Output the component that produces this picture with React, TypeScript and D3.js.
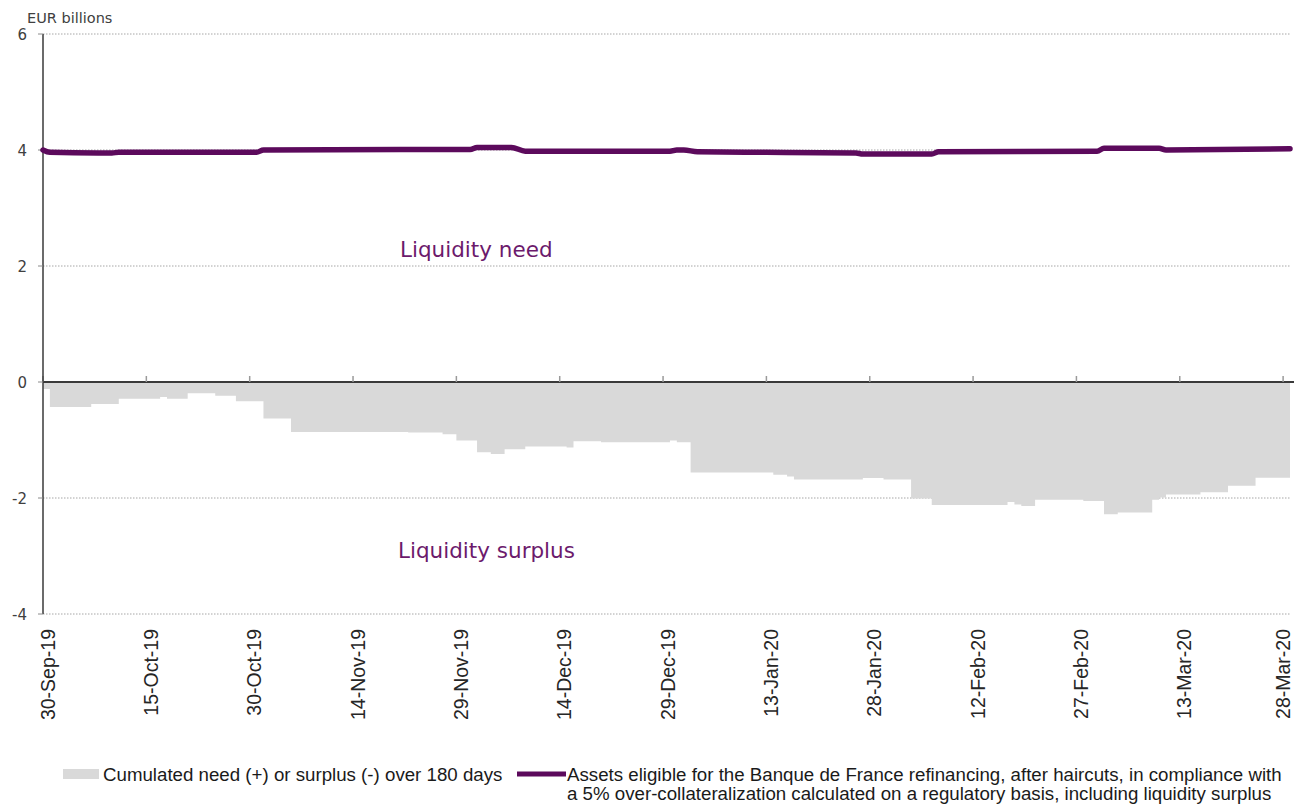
import { useMemo } from "react";
import * as d3 from "d3";

const WIDTH = 1294;
const HEIGHT = 805;
const PLOT = { left: 43, right: 1290, top: 34, bottom: 614 };

// cumulated need (+) / surplus (-), step changes
const surplusDates = [
  "2019-09-30", "2019-10-01", "2019-10-07", "2019-10-11", "2019-10-17", "2019-10-18",
  "2019-10-21", "2019-10-25", "2019-10-28", "2019-11-01", "2019-11-05", "2019-11-22",
  "2019-11-27", "2019-11-29", "2019-12-02", "2019-12-04", "2019-12-06", "2019-12-09",
  "2019-12-15", "2019-12-16", "2019-12-20", "2019-12-30", "2019-12-31", "2020-01-02",
  "2020-01-14", "2020-01-16", "2020-01-17", "2020-01-27", "2020-01-30", "2020-02-03",
  "2020-02-06", "2020-02-17", "2020-02-18", "2020-02-19", "2020-02-21", "2020-02-28",
  "2020-03-02", "2020-03-04", "2020-03-09", "2020-03-10", "2020-03-11", "2020-03-16",
  "2020-03-20", "2020-03-24", "2020-03-29",
];
const surplusValues = [
  -0.12, -0.43, -0.38, -0.29, -0.26, -0.29,
  -0.195, -0.235, -0.33, -0.63, -0.86, -0.87,
  -0.9, -1.01, -1.21, -1.24, -1.16, -1.11,
  -1.13, -1.02, -1.04, -1.01, -1.04, -1.56,
  -1.6, -1.63, -1.68, -1.655, -1.68, -2.01,
  -2.12, -2.07, -2.11, -2.14, -2.03, -2.05,
  -2.28, -2.25, -2.03, -1.99, -1.94, -1.9,
  -1.79, -1.65, -1.65,
];

// eligible assets after haircuts
const assetDates = [
  "2019-09-30", "2019-10-01", "2019-10-08", "2019-10-10", "2019-10-11", "2019-10-31",
  "2019-11-01", "2019-11-30", "2019-12-01", "2019-12-02", "2019-12-07", "2019-12-09",
  "2019-12-30", "2019-12-31", "2020-01-01", "2020-01-03", "2020-01-13", "2020-01-26",
  "2020-01-27", "2020-02-06", "2020-02-07", "2020-03-01", "2020-03-02", "2020-03-10",
  "2020-03-11", "2020-03-29",
];
const assetValues = [
  4.0, 3.96, 3.95, 3.95, 3.96, 3.96,
  4.0, 4.01, 4.01, 4.045, 4.045, 3.98,
  3.98, 4.0, 4.0, 3.97, 3.96, 3.95,
  3.93, 3.93, 3.97, 3.98, 4.03, 4.03,
  4.0, 4.02,
];

const yTicks = [-4, -2, 0, 2, 4, 6];
const xTickDates = [
  "2019-09-30", "2019-10-15", "2019-10-30", "2019-11-14", "2019-11-29", "2019-12-14",
  "2019-12-29", "2020-01-13", "2020-01-28", "2020-02-12", "2020-02-27", "2020-03-13",
  "2020-03-28",
];

const parse = d3.utcParse("%Y-%m-%d");
const fmt = d3.utcFormat("%-d-%b-%y");

const AREA_FILL = "#d9d9d9";
const LINE_COLOR = "#5c0a5c";
const LABEL_COLOR = "#6c1a6c";
const AXIS_TEXT = "#404040";

export default function App() {
  const x = useMemo(
    () =>
      d3
        .scaleUtc()
        .domain([parse("2019-09-30")!, parse("2020-03-29")!])
        .range([PLOT.left, PLOT.right]),
    [],
  );
  const y = useMemo(() => d3.scaleLinear().domain([-4, 6]).range([PLOT.bottom, PLOT.top]), []);

  const surplus = surplusDates.map((d, i) => ({ date: parse(d)!, value: surplusValues[i] }));
  const assets = assetDates.map((d, i) => ({ date: parse(d)!, value: assetValues[i] }));

  const areaPath =
    d3
      .area<{ date: Date; value: number }>()
      .x((d) => x(d.date))
      .y0(y(0))
      .y1((d) => y(d.value))
      .curve(d3.curveStepAfter)(surplus) || "";

  const linePath =
    d3
      .line<{ date: Date; value: number }>()
      .x((d) => x(d.date))
      .y((d) => y(d.value))
      .curve(d3.curveMonotoneX)(assets) || "";

  return (
    <svg
      width={WIDTH}
      height={HEIGHT}
      style={{ display: "block", position: "absolute", left: 0, top: 0 }}
    >
      <rect width={WIDTH} height={HEIGHT} fill="#fff" />

      {yTicks
        .filter((t) => t !== 0)
        .map((t) => (
          <line
            key={`g${t}`}
            x1={PLOT.left}
            x2={PLOT.right}
            y1={y(t)}
            y2={y(t)}
            stroke="#a6a6a6"
            strokeWidth={1}
            strokeDasharray="1.5 1.5"
          />
        ))}

      <path d={areaPath} fill={AREA_FILL} />

      <line x1={PLOT.left} x2={WIDTH} y1={y(0)} y2={y(0)} stroke="#3a3a3a" strokeWidth={2} />
      {xTickDates.map((d) => (
        <line
          key={`xt${d}`}
          x1={x(parse(d)!)}
          x2={x(parse(d)!)}
          y1={y(0) - 6}
          y2={y(0)}
          stroke="#9a9a9a"
          strokeWidth={1.5}
        />
      ))}

      <line x1={PLOT.left} x2={PLOT.left} y1={PLOT.top} y2={PLOT.bottom} stroke="#3a3a3a" strokeWidth={1.5} />
      {yTicks.map((t) => (
        <g key={`yt${t}`}>
          <line x1={PLOT.left - 5} x2={PLOT.left} y1={y(t)} y2={y(t)} stroke="#8a8a8a" strokeWidth={1} />
          <text
            x={27}
            y={y(t) + 5.5}
            textAnchor="end"
            fontFamily="DejaVu Sans, Verdana, sans-serif"
            fontSize={15}
            fill={AXIS_TEXT}
          >
            {t < 0 ? `-${Math.abs(t)}` : t}
          </text>
        </g>
      ))}
      <text x={27} y={23} fontFamily="DejaVu Sans, Verdana, sans-serif" fontSize={14.5} fill={AXIS_TEXT}>
        EUR billions
      </text>

      <path d={linePath} fill="none" stroke={LINE_COLOR} strokeWidth={5.5} strokeLinejoin="round" strokeLinecap="round" />

      <text x={400} y={257} fontFamily="DejaVu Sans, Verdana, sans-serif" fontSize={21.5} fill={LABEL_COLOR}>
        Liquidity need
      </text>
      <text x={398} y={558} fontFamily="DejaVu Sans, Verdana, sans-serif" fontSize={21.5} fill={LABEL_COLOR}>
        Liquidity surplus
      </text>

      {xTickDates.map((d) => {
        // keep the last label inside the page
        const px = Math.min(x(parse(d)!) + 4.5, WIDTH - 11);
        return (
          <text
            key={`xl${d}`}
            transform={`translate(${px},${629}) rotate(-90)`}
            textAnchor="end"
            dominantBaseline="central"
            fontFamily="Liberation Sans, Arial, sans-serif"
            fontSize={19.5}
            fill="#262626"
          >
            {fmt(parse(d)!)}
          </text>
        );
      })}

      <g fontFamily="Liberation Sans, Arial, sans-serif" fontSize={18.7} fill="#1a1a1a">
        <rect x={63} y={769} width={36} height={10} fill={AREA_FILL} />
        <text x={103} y={781}>
          Cumulated need (+) or surplus (-) over 180 days
        </text>
        <line x1={517} x2={566} y1={774} y2={774} stroke={LINE_COLOR} strokeWidth={5} />
        <text x={567} y={781}>
          Assets eligible for the Banque de France refinancing, after haircuts, in compliance with
        </text>
        <text x={567} y={800}>
          a 5% over-collateralization calculated on a regulatory basis, including liquidity surplus
        </text>
      </g>
    </svg>
  );
}
